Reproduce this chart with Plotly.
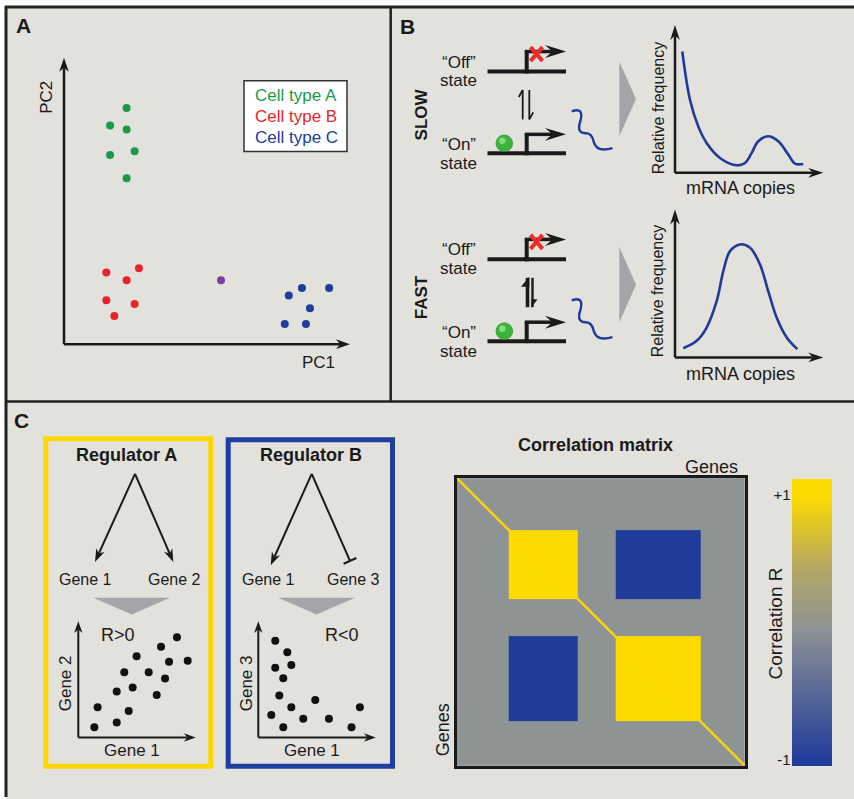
import math
import plotly.graph_objects as go

W, H = 854, 799
FONT = "Liberation Sans, Arial, Helvetica, sans-serif"
INK = "#1a1a1a"
BG = "#e2e1dc"
GREEN = "#1a9a48"
RED = "#e8242b"
BLUE = "#213d9b"
PURPLE = "#7b3f99"
YELLOW = "#fdd800"
CURVE_BLUE = "#1f3a9a"
TRI_GRAY = "#a4a5a8"

# ---------------- Data ----------------
# Panel A: PCA scatter (PC1, PC2 in arbitrary units 0-10)
type_a_pc1 = [2.19, 1.61, 2.19, 1.61, 2.47, 2.19]
type_a_pc2 = [8.25, 7.64, 7.50, 6.61, 6.74, 5.79]
type_b_pc1 = [1.48, 2.62, 2.19, 1.48, 2.47, 1.76]
type_b_pc2 = [2.50, 2.65, 2.23, 1.53, 1.40, 0.98]
type_c_pc1 = [7.86, 8.32, 9.27, 8.60, 7.72, 8.46]
type_c_pc2 = [1.70, 1.96, 1.96, 1.25, 0.70, 0.70]
mixed_pc1 = [5.49]
mixed_pc2 = [2.23]
legend_labels = ["Cell type A", "Cell type B", "Cell type C"]

# Panel B: mRNA distributions (arbitrary units 0-10)
slow_copies = [0.52, 1.07, 1.66, 2.26, 3.21, 4.41, 5.00, 5.48, 5.95, 6.66, 7.38, 8.09, 8.57, 9.16]
slow_freq = [8.69, 5.24, 3.33, 2.14, 1.07, 0.54, 0.71, 1.43, 2.26, 2.62, 2.26, 1.31, 0.66, 0.64]
fast_copies = [0.59, 1.55, 2.26, 2.98, 3.45, 3.93, 4.64, 5.36, 6.07, 6.66, 7.26, 7.98, 8.74]
fast_freq = [0.66, 1.19, 2.14, 4.04, 6.18, 7.61, 8.09, 7.85, 6.66, 4.75, 2.86, 1.43, 0.59]

# Panel C: gene scatter plots (arbitrary units 0-10)
regA_gene1 = [1.42, 3.40, 1.71, 4.46, 3.40, 4.81, 4.07, 6.94, 6.23, 7.68, 5.16, 7.32, 8.03, 8.73, 9.68]
regA_gene2 = [0.91, 1.33, 2.68, 2.35, 4.07, 4.43, 5.78, 3.77, 5.78, 5.24, 7.21, 8.05, 6.72, 8.90, 6.81]
regB_gene1 = [1.50, 2.57, 1.50, 2.92, 2.21, 1.86, 2.92, 1.15, 2.21, 3.98, 5.04, 6.25, 8.99, 8.25]
regB_gene3 = [8.58, 7.55, 6.19, 6.43, 5.25, 3.72, 2.68, 2.00, 0.91, 1.65, 3.33, 1.65, 2.68, 0.91]

# Correlation matrix (gene blocks, % of genes)
gene_edges = [0, 18.2, 42, 55, 84.6, 100]
corr_matrix = [
    [0, 0, 0, 0, 0],
    [0, 1, 0, -1, 0],
    [0, 0, 0, 0, 0],
    [0, -1, 0, 1, 0],
    [0, 0, 0, 0, 0],
]
cbar_min, cbar_max = -1.045, 1.12
cbar_tickvals = [-1, 1]
cbar_ticktext = ["-1", "+1"]

# ---------------- helpers ----------------
def X(x):
    return x / W

def Y(y):
    return 1 - y / H

def xdom(a, b):
    return [a / W, b / W]

def ydom(top, bottom):
    return [1 - bottom / H, 1 - top / H]

shapes = []
annotations = []

def line(x0, y0, x1, y1, color=INK, width=2, layer="above"):
    shapes.append(dict(type="line", xref="paper", yref="paper", x0=X(x0), y0=Y(y0),
                       x1=X(x1), y1=Y(y1), line=dict(color=color, width=width), layer=layer))

def poly(points, fill=INK, color=None, width=0, closed=True):
    d = "M " + " L ".join(f"{X(p[0]):.5f},{Y(p[1]):.5f}" for p in points)
    if closed:
        d += " Z"
    shapes.append(dict(type="path", xref="paper", yref="paper", path=d,
                       fillcolor=fill if closed else "rgba(0,0,0,0)",
                       line=dict(color=color or fill, width=width), layer="above"))

def curve(cmds, color, width):
    parts = []
    for c in cmds:
        op = c[0]
        coords = c[1:]
        pts = []
        for i in range(0, len(coords), 2):
            pts.append(f"{X(coords[i]):.5f},{Y(coords[i+1]):.5f}")
        parts.append(op + " " + " ".join(pts))
    shapes.append(dict(type="path", xref="paper", yref="paper", path=" ".join(parts),
                       line=dict(color=color, width=width), fillcolor="rgba(0,0,0,0)", layer="above"))

def rect(x0, y0, x1, y1, fill="rgba(0,0,0,0)", color=INK, width=0, layer="above"):
    shapes.append(dict(type="rect", xref="paper", yref="paper", x0=X(x0), y0=Y(y0), x1=X(x1), y1=Y(y1),
                       fillcolor=fill, line=dict(color=color, width=width), layer=layer))

def circle(cx, cy, r, fill, color=None, width=0):
    shapes.append(dict(type="circle", xref="paper", yref="paper", x0=X(cx - r), y0=Y(cy + r),
                       x1=X(cx + r), y1=Y(cy - r), fillcolor=fill,
                       line=dict(color=color or fill, width=width), layer="above"))

def arrow(x0, y0, x1, y1, width=2, hl=12, hw=4.5, color=INK, notch=0.3):
    dx, dy = x1 - x0, y1 - y0
    L = math.hypot(dx, dy)
    ux, uy = dx / L, dy / L
    nx, ny = -uy, ux
    bx, by = x1 - ux * hl, y1 - uy * hl
    mx, my = x1 - ux * hl * (1 - notch), y1 - uy * hl * (1 - notch)
    line(x0, y0, mx, my, color, width)
    poly([(x1, y1), (bx + nx * hw, by + ny * hw), (mx, my), (bx - nx * hw, by - ny * hw)], fill=color)

def text(s, x, y, size, color=INK, bold=False, angle=0, xanchor="center"):
    if bold:
        s = f"<b>{s}</b>"
    annotations.append(dict(text=s, x=X(x), y=Y(y), xref="paper", yref="paper", showarrow=False,
                            font=dict(family=FONT, size=size, color=color), textangle=angle,
                            xanchor=xanchor, yanchor="middle"))

# ---------------- Background & panel frames ----------------
rect(6, 7, W + 5, H + 5, fill=BG, color=BG, width=0, layer="below")
line(5, 7, W, 7, "#222", 3)
line(6, 6, 6, H, "#222", 3)
line(390.7, 7, 390.7, 402.5, "#222", 2.5)
line(6, 402.5, W, 402.5, "#222", 2.5)

# ---------------- Panel A ----------------
text("A", 23.5, 26, 21, bold=True)
arrow(64, 345, 64, 58, width=2.5, hl=14, hw=4.8)
arrow(64, 345, 350, 345, width=2.5, hl=14, hw=4.8)
text("PC2", 47, 98, 17, angle=-90)
text("PC1", 318, 363, 17)
rect(244, 81, 347, 152, fill="white", color="#333", width=1.5)
for lbl, col, yy in zip(legend_labels, [GREEN, RED, BLUE], [96, 117, 138]):
    text(lbl, 253, yy, 17, color=col, xanchor="left")

# ---------------- Panel B ----------------
text("B", 407, 26.5, 21, bold=True)

def promoter_block(off_y, label, label_y, tri_top, tri_bot, squig_dy, fast):
    text(label, 421.7, label_y, 17, bold=True, angle=-90)
    # off state
    text("\u201cOff\u201d", 458.5, off_y - 9.5, 17)
    text("state", 458.5, off_y + 9, 17)
    line(487.5, off_y, 566, off_y, INK, 4)
    line(526.7, off_y + 2, 526.7, off_y - 20, INK, 4)
    arrow(524.7, off_y - 20, 566, off_y - 20, width=3.5, hl=21, hw=6.5, notch=0.35)
    line(530.5, off_y - 24.5, 542.5, off_y - 10.5, "#ee2a24", 4)
    line(542.5, off_y - 24.5, 530.5, off_y - 10.5, "#ee2a24", 4)
    # on state
    on_bar = off_y + 82
    text("\u201cOn\u201d", 458.5, on_bar - 8.5, 17)
    text("state", 458.5, on_bar + 10.5, 17)
    line(487.5, on_bar, 566, on_bar, INK, 4)
    line(526.7, on_bar + 2, 526.7, on_bar - 19, INK, 4)
    arrow(524.7, on_bar - 19, 566, on_bar - 19, width=3.5, hl=21, hw=6.5, notch=0.35)
    circle(504.3, on_bar - 10, 8.3, "#3cb43c", "#2d952d", 0.8)
    circle(502.3, on_bar - 12.5, 3.2, "#86dc7a")
    # equilibrium half arrows
    top, bot = off_y + 18.5, off_y + 48
    if fast:
        line(527.5, top, 527.5, bot, INK, 3.6)
        poly([(527.5 + 1.8, top - 1), (521, top + 9), (527.5 + 1.8, top + 9)], fill=INK)
        line(532.5, top, 532.5, bot, INK, 2.4)
        poly([(532.5 - 1.2, bot + 0.5), (537.5, bot - 8), (532.5 - 1.2, bot - 8)], fill=INK)
    else:
        line(522.7, top, 522.7, bot, INK, 1.8)
        line(522.7, top, 518.8, top + 7, INK, 1.8)
        line(529.3, top, 529.3, bot, INK, 1.8)
        line(529.3, bot, 533.2, bot - 7, INK, 1.8)
    # mRNA squiggle
    d = squig_dy
    curve([("M", 571.7, 111.7 + d), ("Q", 584, 107 + d, 580.5, 121 + d), ("Q", 576, 134 + d, 586, 133.5 + d),
           ("Q", 592, 133.5 + d, 594, 143 + d), ("Q", 597, 153 + d, 612.5, 148.5 + d)], CURVE_BLUE, 2.4)
    # gray triangle
    poly([(619.3, tri_top), (636, (tri_top + tri_bot) / 2), (619.3, tri_bot)], fill=TRI_GRAY)

promoter_block(71.7, "SLOW", 115, 61.7, 136.7, 0, False)
promoter_block(260, "FAST", 298.3, 247.7, 323.3, 189.5, True)

# distribution chart axes
for base, top_lbl, rf_y, mc_y in [(173.3, 25, 108.3, 188.3), (358.3, 210, 291.7, 375)]:
    arrow(675, base, 675, top_lbl, width=2.5, hl=15, hw=4.8)
    arrow(675, base, 823.3, base, width=2.5, hl=15, hw=4.8)
    text("Relative frequency", 658.3, rf_y, 16, angle=-90)
    text("mRNA copies", 740, mc_y, 18)

# ---------------- Panel C ----------------
text("C", 21.7, 422, 21, bold=True)
rect(45.8, 439.8, 210.8, 768.2, color=YELLOW, width=5)
rect(228.2, 440.8, 392.5, 768.2, color="#1f3f9e", width=5)

text("Regulator A", 126.7, 456, 18, bold=True)
text("Regulator B", 310.7, 456, 18, bold=True)
arrow(135, 475, 95, 563.3, width=2, hl=13, hw=4.5)
arrow(135, 475, 173.3, 563.3, width=2, hl=13, hw=4.5)
arrow(311.7, 475, 270.7, 566.7, width=2, hl=13, hw=4.5)
line(311.7, 475, 350, 562.3, INK, 2)
line(343.6, 565.1, 356.4, 559.5, INK, 2.2)
text("Gene 1", 85, 581, 16)
text("Gene 2", 174, 581, 16)
text("Gene 1", 268.3, 581, 16)
text("Gene 3", 353.3, 581, 16)
poly([(93.3, 599.3), (170, 599.3), (131.7, 616)], fill=TRI_GRAY)
poly([(278.3, 599.3), (355, 599.3), (316.7, 616)], fill=TRI_GRAY)
text("R>0", 118.3, 637, 18)
text("R<0", 342.3, 637, 18)
for x0 in (78.3, 258.3):
    arrow(x0, 739.3, x0, 622.7, width=2, hl=12, hw=4.2)
    arrow(x0, 739.3, x0 + 117.5, 739.3, width=2, hl=12, hw=4.2)
text("Gene 2", 65, 685, 17, angle=-90)
text("Gene 3", 246, 685, 17, angle=-90)
text("Gene 1", 131.7, 752, 17)
text("Gene 1", 311.7, 752, 17)

text("Correlation matrix", 595.7, 446, 18, bold=True)
text("Genes", 711.7, 468, 18)
text("Genes", 443.3, 731.7, 18, angle=-90)
text("Correlation R", 775, 625, 19, angle=-90)

# ---------------- Traces ----------------
fig = go.Figure()

def dots(x, y, color, size, ax):
    fig.add_trace(go.Scatter(x=x, y=y, mode="markers", xaxis="x" + ax, yaxis="y" + ax,
                             marker=dict(color=color, size=size, line=dict(width=0)),
                             cliponaxis=False, hoverinfo="skip", showlegend=False))

dots(type_a_pc1, type_a_pc2, GREEN, 8, "")
dots(type_b_pc1, type_b_pc2, RED, 8, "")
dots(type_c_pc1, type_c_pc2, BLUE, 8, "")
dots(mixed_pc1, mixed_pc2, PURPLE, 8, "")

fig.add_trace(go.Scatter(x=slow_copies, y=slow_freq, mode="lines", xaxis="x2", yaxis="y2",
                         line=dict(color=CURVE_BLUE, width=2.6, shape="spline", smoothing=1.0),
                         cliponaxis=False, hoverinfo="skip", showlegend=False))
fig.add_trace(go.Scatter(x=fast_copies, y=fast_freq, mode="lines", xaxis="x3", yaxis="y3",
                         line=dict(color=CURVE_BLUE, width=2.6, shape="spline", smoothing=1.0),
                         cliponaxis=False, hoverinfo="skip", showlegend=False))

dots(regA_gene1, regA_gene2, "#111111", 8, "4")
dots(regB_gene1, regB_gene3, "#111111", 8, "5")

R = cbar_max - cbar_min
def pos(v):
    return (v - cbar_min) / R
colorscale = [
    [0.0, "#1f3c9c"],
    [pos(-1), "#213d9b"],
    [pos(0), "#8e9394"],
    [pos(0.45), "#b5a862"],
    [pos(1), "#fedb00"],
    [1.0, "#fedb00"],
]
fig.add_trace(go.Heatmap(
    x=gene_edges, y=gene_edges, z=corr_matrix, xaxis="x6", yaxis="y6",
    zmin=cbar_min, zmax=cbar_max, colorscale=colorscale, hoverinfo="skip",
    colorbar=dict(x=791.7 / W, xanchor="left", y=1 - 623.85 / H, yanchor="middle",
                  len=287.7 / H, lenmode="fraction", thickness=40, thicknessmode="pixels",
                  xpad=0, ypad=0, outlinewidth=0, showticklabels=False, ticks=""),
))
fig.add_trace(go.Scatter(x=[gene_edges[0], gene_edges[-1]], y=[gene_edges[0], gene_edges[-1]],
                         mode="lines", xaxis="x6", yaxis="y6", line=dict(color=YELLOW, width=2.4),
                         hoverinfo="skip", showlegend=False))
# axis for colorbar tick labels
fig.add_trace(go.Scatter(x=[0.5], y=[0], mode="markers", xaxis="x7", yaxis="y7",
                         marker=dict(opacity=0), hoverinfo="skip", showlegend=False))

hidden = dict(visible=False, fixedrange=True, showgrid=False, zeroline=False)
fig.update_layout(
    width=W, height=H, margin=dict(l=0, r=0, t=0, b=0, pad=0),
    paper_bgcolor="white", plot_bgcolor="rgba(0,0,0,0)", showlegend=False,
    shapes=shapes, annotations=annotations,
    xaxis=dict(domain=xdom(64, 350), range=[0, 10], anchor="y", **hidden),
    yaxis=dict(domain=ydom(58, 345), range=[0, 10], anchor="x", **hidden),
    xaxis2=dict(domain=xdom(675, 815), range=[0, 10], anchor="y2", **hidden),
    yaxis2=dict(domain=ydom(33.3, 173.3), range=[0, 10], anchor="x2", **hidden),
    xaxis3=dict(domain=xdom(675, 815), range=[0, 10], anchor="y3", **hidden),
    yaxis3=dict(domain=ydom(218.3, 358.3), range=[0, 10], anchor="x3", **hidden),
    xaxis4=dict(domain=xdom(78.3, 191.3), range=[0, 10], anchor="y4", **hidden),
    yaxis4=dict(domain=ydom(626.3, 739.3), range=[0, 10], anchor="x4", **hidden),
    xaxis5=dict(domain=xdom(258.3, 371.3), range=[0, 10], anchor="y5", **hidden),
    yaxis5=dict(domain=ydom(626.3, 739.3), range=[0, 10], anchor="x5", **hidden),
    xaxis6=dict(domain=xdom(456.7, 745), range=[0, 100], anchor="y6", showline=True, mirror=True,
                linecolor="#1a1a1a", linewidth=2.5, showticklabels=False, ticks="",
                showgrid=False, zeroline=False, fixedrange=True),
    yaxis6=dict(domain=ydom(479.3, 767.7), range=[100, 0], anchor="x6", showline=True, mirror=True,
                linecolor="#1a1a1a", linewidth=2.5, showticklabels=False, ticks="",
                showgrid=False, zeroline=False, fixedrange=True),
    xaxis7=dict(domain=xdom(791.7, 831.7), range=[0, 1], anchor="y7", **hidden),
    yaxis7=dict(domain=ydom(480, 767.7), range=[cbar_min, cbar_max], anchor="x7", side="left",
                tickvals=cbar_tickvals, ticktext=cbar_ticktext, ticks="", showline=False,
                showgrid=False, zeroline=False, fixedrange=True,
                tickfont=dict(family=FONT, size=15, color=INK)),
)

fig.write_html("out.html", config={"displayModeBar": False},
               post_script="document.body.style.margin='0';document.body.style.overflow='hidden';")
